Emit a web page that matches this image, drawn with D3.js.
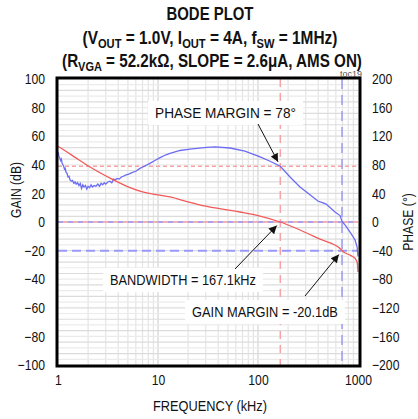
<!DOCTYPE html>
<html>
<head>
<meta charset="utf-8">
<script src="https://cdn.jsdelivr.net/npm/d3@7"></script>
<style>
  body { margin: 0; background: #fff; }
  text { font-family: "Liberation Sans", Arial, sans-serif; }
</style>
</head>
<body>
<div id="chart"></div>
<script>
// Gain curve (dB) vs frequency (kHz)
const gainFreq = [1, 1.2, 1.5, 2.09, 3.47, 5.25, 7, 10, 13.2, 20, 26, 40, 66, 100, 167.1, 263, 417, 661, 692, 850, 935, 980, 1000];
const gainDb = [53, 49.5, 45, 38.5, 30, 24, 21, 19, 17.5, 14, 12, 9.5, 7, 4.5, 0, -5.6, -12, -18.5, -20.1, -23.5, -25.5, -28, -35];

// Phase curve (deg) vs frequency (kHz)
const phaseFreq = [1.00, 1.02, 1.04, 1.06, 1.08, 1.10, 1.12, 1.14, 1.16, 1.18, 1.20, 1.23, 1.26, 1.29, 1.32, 1.36, 1.40, 1.44, 1.48, 1.52,
  1.57, 1.62, 1.67, 1.72, 1.77, 1.82, 1.88, 1.94, 2.0, 2.07, 2.14, 2.21, 2.3, 2.4, 2.5, 2.6, 2.7, 2.8, 2.9, 3.0,
  3.15, 3.3, 3.45, 3.6, 3.75, 3.9, 4.1, 4.3, 4.5, 4.8, 5.1, 5.5, 6.0, 6.6, 7.3, 8.3, 9.3, 10.5, 12, 13.2,
  16.6, 20.9, 30.6, 37.2, 52.5, 74, 105, 132, 167.1, 209, 263, 331, 400, 440, 480, 589, 661, 692, 760, 832, 933, 980, 1000];
const phaseDeg = [98, 92, 90, 86, 88, 82, 80, 78, 74, 75, 70, 68, 63, 64, 59, 57, 58, 54, 56, 53,
  55, 51, 54, 47, 52, 49, 51, 46, 50, 48, 52, 49, 51, 50, 53, 50, 54, 52, 55, 53,
  56, 57, 55, 60, 59, 61, 60, 63, 64, 66, 67, 69, 71, 75, 78, 82, 86, 90, 94, 96,
  100, 102, 104.5, 105, 103.5, 99, 91, 85, 78, 63, 49, 38, 29, 27, 25, 14, 9, 1, -6, -14, -25, -35, -48];

const gainTicks = [100, 80, 60, 40, 20, 0, -20, -40, -60, -80, -100];
const phaseTicks = [200, 160, 120, 80, 40, 0, -40, -80, -120, -160, -200];
const freqTicks = [1, 10, 100, 1000];

const bandwidth = 167.1;      // kHz
const phaseMargin = 78;       // deg
const gainMargin = -20.1;     // dB
const gainMarginFreq = 692;   // kHz

const W = 418, H = 419;
const plot = { left: 58, right: 358, top: 79, bottom: 365 };
const NARROW = 0.84;

const svg = d3.select("#chart").append("svg")
  .attr("width", W).attr("height", H);

const x = d3.scaleLog().domain([1, 1000]).range([plot.left, plot.right]);
const yG = d3.scaleLinear().domain([-100, 100]).range([plot.bottom, plot.top]);
const yP = d3.scaleLinear().domain([-200, 200]).range([plot.bottom, plot.top]);

// squeeze a text horizontally around its anchor x (fake narrow font)
function squeeze(node, k) {
  const ax = +node.getAttribute("x") || 0;
  const old = node.getAttribute("transform") || "";
  node.setAttribute("transform", `${old} translate(${ax},0) scale(${k},1) translate(${-ax},0)`);
}
function fitWidth(node, w) {
  squeeze(node, w / node.getBBox().width);
}

// Title
const title = svg.append("g").attr("font-weight", "bold").attr("text-anchor", "middle")
  .style("font-size", "18px").attr("fill", "#111");
const t1 = title.append("text").attr("x", 210).attr("y", 20).text("BODE PLOT");
const t2 = title.append("text").attr("x", 210).attr("y", 44);
t2.append("tspan").text("(V");
t2.append("tspan").attr("dy", 4).style("font-size", "13px").text("OUT");
t2.append("tspan").attr("dy", -4).text(" = 1.0V, I");
t2.append("tspan").attr("dy", 4).style("font-size", "13px").text("OUT");
t2.append("tspan").attr("dy", -4).text(" = 4A, f");
t2.append("tspan").attr("dy", 4).style("font-size", "13px").text("SW");
t2.append("tspan").attr("dy", -4).text(" = 1MHz)");
const t3 = title.append("text").attr("x", 212).attr("y", 67);
t3.append("tspan").text("(R");
t3.append("tspan").attr("dy", 4).style("font-size", "13px").text("VGA");
t3.append("tspan").attr("dy", -4).text(" = 52.2kΩ, SLOPE = 2.6μA, AMS ON)");
fitWidth(t1.node(), 87);
fitWidth(t2.node(), 255);
fitWidth(t3.node(), 300);

// Grid
const grid = svg.append("g");
const minorF = [];
[1, 10, 100].forEach(dec => { for (let k = 2; k <= 9; k++) minorF.push(dec * k); });
grid.selectAll(".vg").data(minorF.concat([10, 100])).enter().append("line")
  .attr("x1", d => x(d)).attr("x2", d => x(d))
  .attr("y1", plot.top).attr("y2", plot.bottom)
  .attr("stroke", d => (d === 10 || d === 100) ? "#d4d4d4" : "#e4e4e4").attr("stroke-width", 1.2);
grid.selectAll(".hg").data(d3.range(-96, 100, 4)).enter().append("line")
  .attr("x1", plot.left).attr("x2", plot.right)
  .attr("y1", d => yG(d)).attr("y2", d => yG(d))
  .attr("stroke", (d, i) => i % 2 ? "#dcdcdc" : "#ebebeb").attr("stroke-width", 1.2);

// Reference dashed lines
const ref = svg.append("g").attr("fill", "none");
ref.append("line").attr("x1", plot.left).attr("x2", plot.right)
  .attr("y1", yP(phaseMargin)).attr("y2", yP(phaseMargin))
  .attr("stroke", "#f5a3a3").attr("stroke-width", 1.5).attr("stroke-dasharray", "4,3");
ref.append("line").attr("x1", x(bandwidth)).attr("x2", x(bandwidth))
  .attr("y1", plot.top).attr("y2", plot.bottom)
  .attr("stroke", "#f5a3a3").attr("stroke-width", 1.5).attr("stroke-dasharray", "8,6");
ref.append("line").attr("x1", plot.left).attr("x2", plot.right)
  .attr("y1", yG(0)).attr("y2", yG(0))
  .attr("stroke", "#f39a9a").attr("stroke-width", 1.5);
ref.append("line").attr("x1", plot.left).attr("x2", plot.right)
  .attr("y1", yG(0)).attr("y2", yG(0))
  .attr("stroke", "#9a9af5").attr("stroke-width", 1.5).attr("stroke-dasharray", "5,5");
ref.append("line").attr("x1", plot.left).attr("x2", plot.right)
  .attr("y1", yG(gainMargin)).attr("y2", yG(gainMargin))
  .attr("stroke", "#9a9af5").attr("stroke-width", 2).attr("stroke-dasharray", "9,5");
ref.append("line").attr("x1", x(gainMarginFreq)).attr("x2", x(gainMarginFreq))
  .attr("y1", plot.top).attr("y2", plot.bottom)
  .attr("stroke", "#9a9af5").attr("stroke-width", 1.5).attr("stroke-dasharray", "10,6");

// Curves
const phaseLine = d3.line().x(d => x(d[0])).y(d => yP(d[1]));
const gainLine = d3.line().curve(d3.curveMonotoneX).x(d => x(d[0])).y(d => yG(d[1]));
svg.append("path").datum(d3.zip(phaseFreq, phaseDeg)).attr("d", phaseLine)
  .attr("fill", "none").attr("stroke", "#6b6bf5").attr("stroke-width", 1.3);
svg.append("path").datum(d3.zip(gainFreq, gainDb)).attr("d", gainLine)
  .attr("fill", "none").attr("stroke", "#f25a5a").attr("stroke-width", 1.3);

// Annotations
svg.append("defs").append("marker").attr("id", "ah")
  .attr("viewBox", "0 0 10 10").attr("refX", 10).attr("refY", 5)
  .attr("markerWidth", 10).attr("markerHeight", 8).attr("orient", "auto")
  .attr("markerUnits", "userSpaceOnUse")
  .append("path").attr("d", "M0,0 L10,5 L0,10 z").attr("fill", "#111");

const notes = [
  { text: "PHASE MARGIN = 78°", cx: 225.5, cy: 113, w: 141, fx: 258, fy: 124, tf: bandwidth, tv: yP(phaseMargin) },
  { text: "BANDWIDTH = 167.1kHz", cx: 183, cy: 280, w: 146, fx: 235, fy: 269, tf: bandwidth, tv: yG(0) },
  { text: "GAIN MARGIN = -20.1dB", cx: 265, cy: 312, w: 146, fx: 305, fy: 296, tf: gainMarginFreq, tv: yG(gainMargin) }
];
notes.forEach(n => {
  const g = svg.append("g");
  g.append("rect").attr("x", n.cx - n.w / 2 - 7).attr("y", n.cy - 12).attr("width", n.w + 14).attr("height", 24)
    .attr("fill", "#fff");
  const t = g.append("text").attr("x", n.cx).attr("y", n.cy + 5).attr("text-anchor", "middle")
    .style("font-size", "14px").attr("fill", "#111").text(n.text);
  fitWidth(t.node(), n.w);
  const tx = x(n.tf), ty = n.tv;
  const dx = tx - n.fx, dy = ty - n.fy, len = Math.hypot(dx, dy);
  g.append("line").attr("x1", n.fx).attr("y1", n.fy)
    .attr("x2", tx - dx / len * 5).attr("y2", ty - dy / len * 5)
    .attr("stroke", "#111").attr("stroke-width", 1).attr("marker-end", "url(#ah)");
});

// Frame
svg.append("rect").attr("x", plot.left - 1).attr("y", plot.top - 1)
  .attr("width", plot.right - plot.left + 3).attr("height", plot.bottom - plot.top + 2)
  .attr("fill", "none").attr("stroke", "#000").attr("stroke-width", 3);

svg.append("text").attr("x", 362).attr("y", 77).attr("text-anchor", "end")
  .style("font-size", "9px").attr("fill", "#555").text("toc19");

// Axes
const axL = svg.append("g").attr("transform", `translate(${plot.left},0)`)
  .call(d3.axisLeft(yG).tickValues(gainTicks).tickSize(0).tickPadding(13));
const axR = svg.append("g").attr("transform", `translate(${plot.right},0)`)
  .call(d3.axisRight(yP).tickValues(phaseTicks).tickSize(0).tickPadding(14));
const axB = svg.append("g").attr("transform", `translate(0,${plot.bottom})`)
  .call(d3.axisBottom(x).tickValues(freqTicks).tickFormat(d3.format("d")).tickSize(0).tickPadding(10));
[axL, axR, axB].forEach(a => {
  a.select(".domain").remove();
  a.selectAll("text").style("font-size", "14.5px").attr("fill", "#111")
    .style("font-family", "'Liberation Sans', Arial, sans-serif")
    .each(function () { squeeze(this, NARROW); });
});

const lab = svg.append("g").style("font-size", "14.5px").attr("fill", "#111").attr("text-anchor", "middle");
const gl = lab.append("text").attr("x", 0).attr("y", 0).text("GAIN (dB)");
squeeze(gl.node(), NARROW);
gl.attr("transform", `translate(21,190) rotate(-90) ${gl.attr("transform")}`);
const pl = lab.append("text").attr("x", 0).attr("y", 0).text("PHASE (°)");
squeeze(pl.node(), NARROW);
pl.attr("transform", `translate(413,222) rotate(-90) ${pl.attr("transform")}`);
const fl = lab.append("text").attr("x", 210).attr("y", 411).text("FREQUENCY (kHz)");
fitWidth(fl.node(), 114);
</script>
</body>
</html>
